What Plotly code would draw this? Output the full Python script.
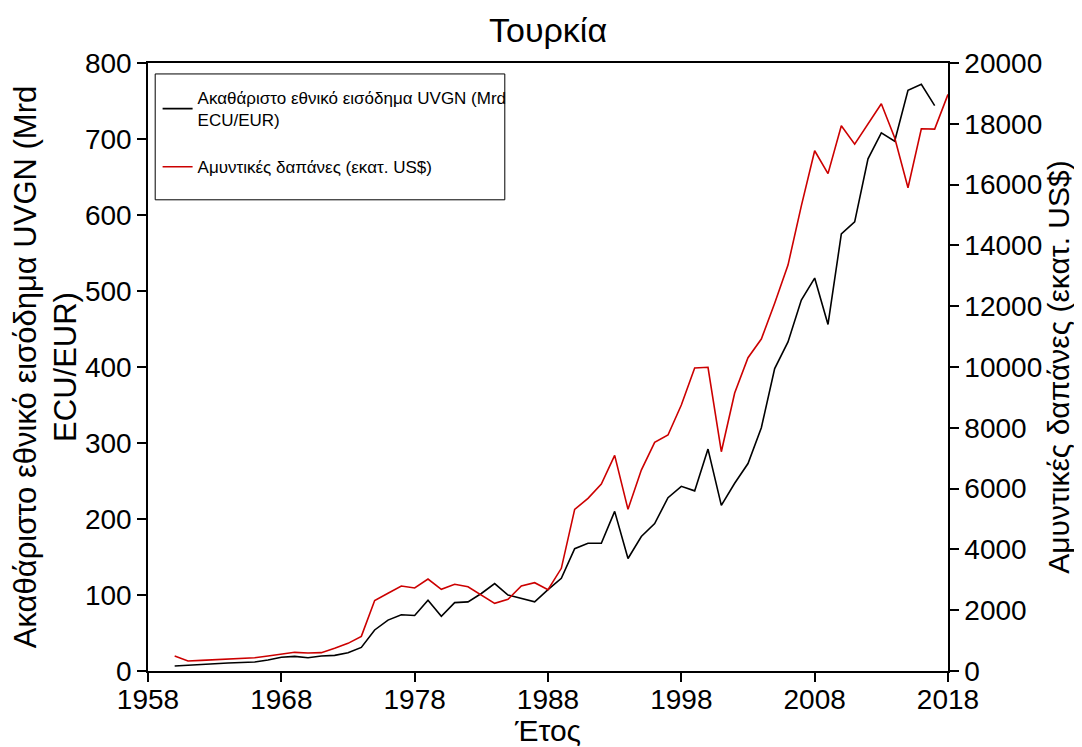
import plotly.graph_objects as go

# ---- data ----
years_gni = list(range(1960, 2018))
gni = [6.6, 7.9, 8.8, 9.6, 10.5, 11, 11.8, 14.5, 18, 19.3,
       17.5, 19.7, 20.6, 24, 31, 54, 67, 74, 73, 93,
       72, 90, 91, 102, 115, 100, 96, 91, 107, 122,
       161, 168, 168, 210, 148, 177, 194, 228, 243, 237,
       292, 218, 247, 273, 320, 398, 433, 488, 517, 456,
       575, 591, 674, 708, 697, 764, 772, 744]

years_def = list(range(1960, 2019))
defense = [493, 329, 351, 372, 395, 417, 438, 493, 559, 614,
           592, 603, 745, 910, 1140, 2320, 2555, 2796, 2730, 3026,
           2687, 2851, 2773, 2500, 2226, 2358, 2796, 2905, 2675, 3378,
           5318, 5680, 6150, 7094, 5318, 6611, 7522, 7763, 8750, 9966,
           9990, 7213, 9143, 10305, 10920, 12100, 13353, 15300, 17113, 16360,
           17935, 17330, 17990, 18660, 17540, 15896, 17836, 17826, 18967]

x_ticks = [1958, 1968, 1978, 1988, 1998, 2008, 2018]

title_text = "Τουρκία"
x_title = "Έτος"
y_title = "Ακαθάριστο εθνικό εισόδημα UVGN (Mrd<br>ECU/EUR)"
y2_title = "Αμυντικές δαπάνες (εκατ. US$)"
name_gni = "Ακαθάριστο εθνικό εισόδημα UVGN (Mrd<br>ECU/EUR)"
name_def = "Αμυντικές δαπάνες (εκατ. US$)"

FONT = "Liberation Sans, Arial, sans-serif"

fig = go.Figure()
fig.add_trace(go.Scatter(x=years_gni, y=gni, mode="lines", name=name_gni,
                         legendgroup="g1",
                         line=dict(color="black", width=1.6)))
fig.add_trace(go.Scatter(x=years_def, y=defense, mode="lines", name=name_def,
                         legendgroup="g2",
                         yaxis="y2", line=dict(color="#CC0000", width=1.6)))

axis_common = dict(showgrid=False, zeroline=False, showline=True,
                   linecolor="black", linewidth=1.5, ticks="outside",
                   ticklen=9, tickwidth=1.5, tickcolor="black",
                   automargin=False,
                   tickfont=dict(family=FONT, size=28, color="black"))

# page body has an 8px margin: figure is sized so the plot lands where the reference has it
fig.update_layout(
    width=1074, height=739, autosize=False,
    margin=dict(l=140, r=134, t=55, b=76),
    paper_bgcolor="white", plot_bgcolor="white",
    font=dict(family=FONT, color="black"),
    title=dict(text=title_text, x=0.5, xanchor="center", xref="paper",
               y=0.97, yref="container", yanchor="middle",
               font=dict(family=FONT, size=34, color="black")),
    xaxis=dict(range=[1958, 2018], tickvals=x_ticks, mirror=True,
               ticklabelstandoff=-6,
               title=dict(text=x_title, standoff=8,
                          font=dict(family=FONT, size=30, color="black")),
               **axis_common),
    yaxis=dict(range=[0, 800], dtick=100, tick0=0,
               title=dict(text=y_title, standoff=0,
                          font=dict(family=FONT, size=31, color="black")),
               **axis_common),
    yaxis2=dict(range=[0, 20000], dtick=2000, tick0=0, overlaying="y",
                side="right", tickformat="d",
                title=dict(text=y2_title, standoff=4,
                           font=dict(family=FONT, size=30, color="black")),
                **axis_common),
    legend=dict(x=0.012, y=0.972, xanchor="left", yanchor="top",
                bgcolor="rgba(0,0,0,0)", borderwidth=0,
                traceorder="grouped", tracegroupgap=22,
                font=dict(family=FONT, size=17, color="black")),
    showlegend=True,
    shapes=[dict(type="rect", xref="paper", yref="paper",
                 x0=0.009, x1=0.446, y0=0.775, y1=0.982,
                 line=dict(color="black", width=1), fillcolor="rgba(0,0,0,0)")],
)

fig.write_html("out.html")
